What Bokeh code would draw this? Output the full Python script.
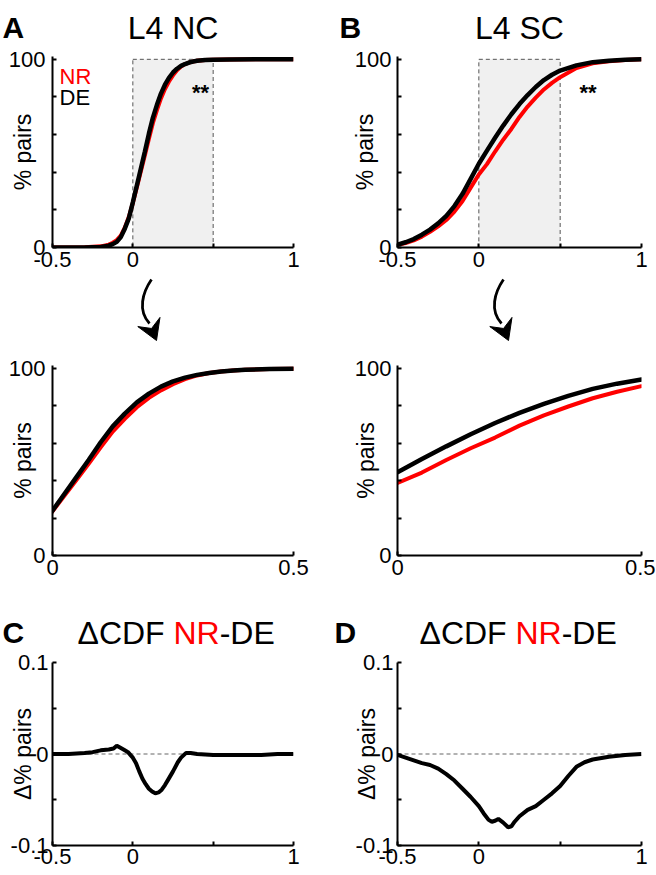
import numpy as np
from bokeh.plotting import figure
from bokeh.models import Range1d, FixedTicker, Label, Span
from bokeh.layouts import column, row
from bokeh.embed import file_html
from bokeh.resources import INLINE

FONT = "Liberation Sans"
RED = "#ff0000"
BLACK = "#000000"

# ---------------- data ----------------
# L4 NC cumulative distributions (% pairs)
nc_x = [-0.5, -0.3, -0.2, -0.15, -0.125, -0.1, -0.075, -0.05, -0.025, 0.0, 0.025, 0.05, 0.075,
        0.1, 0.125, 0.15, 0.175, 0.2, 0.225, 0.25, 0.275, 0.3, 0.325, 0.35, 0.375, 0.4, 0.45,
        0.5, 0.6, 0.8, 1.0]
nc_de = [0, 0, 0.3, 1, 1.8, 3, 5.5, 10, 15.5, 24, 33, 42, 51,
         60.5, 69, 75.8, 81.8, 86.5, 90.2, 93, 95, 96.5, 97.5, 98.3, 98.8, 99.2, 99.6,
         99.8, 99.9, 100, 100]
nc_nr = [0, 0.1, 0.6, 1.5, 2.5, 3.9, 6.3, 10.5, 16.2, 23.6, 32, 40.5, 49,
         57.8, 66.2, 73, 79.2, 84.2, 88.2, 91.5, 94.2, 96.2, 97.5, 98.3, 98.8, 99.2, 99.6,
         99.8, 99.9, 100, 100]

# L4 SC cumulative distributions (% pairs)
sc_x = [-0.5, -0.45, -0.4, -0.35, -0.3, -0.25, -0.2, -0.15, -0.1, -0.05, 0.0, 0.05, 0.1,
        0.15, 0.2, 0.25, 0.3, 0.35, 0.4, 0.45, 0.5, 0.6, 0.7, 0.8, 0.9, 1.0]
sc_de = [1.5, 2.8, 4.5, 6.8, 9.5, 12.8, 16.8, 22, 28.5, 36.5, 44.5, 51.5, 58.3,
         64.8, 70.8, 76.2, 81, 85.3, 89, 91.8, 94, 96.8, 98.5, 99.3, 99.8, 100]
sc_nr = [1.4, 2.4, 3.8, 5.8, 8.3, 11.2, 14.6, 19.1, 24.7, 31.8, 38.8, 44.3, 51,
         57.3, 63, 69.4, 74.9, 79.6, 84, 87.5, 90.5, 95.4, 97.9, 99, 99.7, 100]

# Delta CDF (NR - DE)
dnc_x = [-0.5, -0.4, -0.3, -0.25, -0.2, -0.15, -0.12, -0.1, -0.08, -0.05, -0.03, -0.01, 0.0,
         0.02, 0.04, 0.06, 0.08, 0.1, 0.12, 0.14, 0.16, 0.18, 0.2, 0.22, 0.25, 0.28, 0.3,
         0.33, 0.36, 0.4, 0.5, 0.6, 0.7, 0.8, 0.9, 1.0]
dnc_y = [0, 0, 0.001, 0.002, 0.004, 0.005, 0.006, 0.009, 0.007, 0.004, 0.002, -0.002, -0.004,
         -0.01, -0.019, -0.027, -0.033, -0.038, -0.041, -0.043, -0.042, -0.039, -0.034, -0.028,
         -0.019, -0.009, -0.004, 0.001, 0.001, 0.0, -0.001, -0.001, -0.001, -0.001, 0, 0]

dsc_x = [-0.5, -0.45, -0.4, -0.35, -0.3, -0.25, -0.2, -0.15, -0.1, -0.05, 0.0, 0.03, 0.06,
         0.08, 0.1, 0.12, 0.15, 0.18, 0.2, 0.22, 0.25, 0.3, 0.35, 0.4, 0.45, 0.5, 0.55, 0.6,
         0.65, 0.7, 0.8, 0.9, 1.0]
dsc_y = [-0.001, -0.004, -0.007, -0.01, -0.012, -0.016, -0.022, -0.029, -0.038, -0.047, -0.057,
         -0.065, -0.072, -0.074, -0.073, -0.071, -0.075, -0.08, -0.079, -0.074, -0.068, -0.061,
         -0.057, -0.05, -0.043, -0.035, -0.024, -0.014, -0.009, -0.006, -0.003, -0.001, 0]

window = (0.0, 0.5)          # zoomed window shown in the middle row
full_ticks = [-0.5, 0, 0.5, 1]
full_labels = {-0.5: "-0.5", 0: "0", 0.5: "", 1: "1"}
pct_ticks = [0, 20, 40, 60, 80, 100]
pct_labels = {0: "0", 20: "", 40: "", 60: "", 80: "", 100: "100"}
win_ticks = [0, 0.5]
win_labels = {0: "0", 0.5: "0.5"}
d_ticks = [-0.1, -0.05, 0, 0.05, 0.1]
d_labels = {-0.1: "-0.1", -0.05: "", 0: "0", 0.05: "", 0.1: "0.1"}


def make_fig(width, height, bl, br, bt, bb, xr, yr, xt, xl, yt, yl, ylabel, lab_stand,
             ystand=7, xstand=4):
    p = figure(width=width, height=height, x_range=Range1d(*xr), y_range=Range1d(*yr),
               output_backend="svg", toolbar_location=None,
               min_border_left=bl, min_border_right=br, min_border_top=bt, min_border_bottom=bb)
    p.xgrid.visible = False
    p.ygrid.visible = False
    p.outline_line_color = None
    p.background_fill_color = "white"
    p.border_fill_color = "white"
    p.xaxis.ticker = FixedTicker(ticks=xt)
    p.xaxis.major_label_overrides = xl
    p.yaxis.ticker = FixedTicker(ticks=yt)
    p.yaxis.major_label_overrides = yl
    for ax in (p.xaxis[0], p.yaxis[0]):
        ax.axis_line_width = 2
        ax.axis_line_color = BLACK
        ax.major_tick_in = 4
        ax.major_tick_out = 0
        ax.major_tick_line_width = 2
        ax.major_tick_line_color = BLACK
        ax.minor_tick_line_color = None
        ax.major_label_text_font = FONT
        ax.major_label_text_font_size = "22px"
        ax.major_label_text_color = BLACK
    ya = p.yaxis[0]
    ya.major_label_standoff = ystand
    ya.axis_label = ylabel
    ya.axis_label_text_font = FONT
    ya.axis_label_text_font_size = "23px"
    ya.axis_label_text_font_style = "normal"
    ya.axis_label_text_color = BLACK
    ya.axis_label_standoff = lab_stand
    p.xaxis[0].major_label_standoff = xstand
    return p


def deco_fig(width, height):
    """A figure without axes whose frame is the whole canvas, in pixel units (y down)."""
    p = figure(width=width, height=height, x_range=Range1d(0, width), y_range=Range1d(height, 0),
               x_axis_type=None, y_axis_type=None, output_backend="svg", toolbar_location=None,
               min_border_left=0, min_border_right=0, min_border_top=0, min_border_bottom=0)
    p.outline_line_color = None
    p.background_fill_color = "white"
    p.border_fill_color = "white"
    p.grid.visible = False
    return p


def txt(p, x, y, text, size="22px", color=BLACK, align="left", baseline="alphabetic", bold=False):
    p.add_layout(Label(x=x, y=y, text=text, text_font=FONT, text_font_size=size,
                       text_color=color, text_align=align, text_baseline=baseline,
                       text_font_style="bold" if bold else "normal"))


def curved_arrow(p, pts, tip, head_len=20, head_w=24):
    (x0, y0), (cx0, cy0), (cx1, cy1), (x1, y1) = pts
    p.bezier(x0=[x0], y0=[y0], x1=[x1], y1=[y1], cx0=[cx0], cy0=[cy0], cx1=[cx1], cy1=[cy1],
             line_color=BLACK, line_width=2.8)
    t = np.array(tip, dtype=float)
    d = t - np.array([x1, y1], dtype=float)
    d /= np.hypot(*d)
    n = np.array([-d[1], d[0]])
    base = t - head_len * d
    w1 = base + 0.5 * head_w * n
    w2 = base - 0.5 * head_w * n
    notch = t - 0.65 * head_len * d
    p.patch([t[0], w1[0], notch[0], w2[0]], [t[1], w1[1], notch[1], w2[1]],
            fill_color=BLACK, line_color=BLACK, line_width=1)


LW, RW = 326, 329
TOP_Y = (0, 101.5)

# ---------------- row 1: titles ----------------
t1l = deco_fig(LW, 46)
txt(t1l, 2, 27, "A", size="30px", bold=True)
txt(t1l, 172.5, 27, "L4 NC", size="32px", align="center")
t1r = deco_fig(RW, 46)
txt(t1r, 13, 27, "B", size="30px", bold=True)
txt(t1r, 193, 27, "L4 SC", size="32px", align="center")

# ---------------- row 2: full CDFs ----------------
tl = make_fig(LW, 231, 52, 33, 10, 30, (-0.5, 1), TOP_Y, full_ticks, full_labels, pct_ticks,
              pct_labels, "% pairs", -30)
tr = make_fig(RW, 231, 71, 14, 10, 30, (-0.5, 1), TOP_Y, full_ticks, full_labels, pct_ticks,
              pct_labels, "% pairs", -26, ystand=6)
for p, x, de, nr in ((tl, nc_x, nc_de, nc_nr), (tr, sc_x, sc_de, sc_nr)):
    p.quad(left=[window[0]], right=[window[1]], bottom=[0], top=[100], fill_color="#f0f0f0",
           line_color="#555555", line_dash="4 3", line_width=1)
    p.line(x, nr, line_color=RED, line_width=4)
    p.line(x, de, line_color=BLACK, line_width=4.5)
txt(tl, -0.456, 90.9, "NR", color=RED)
txt(tl, -0.456, 79.7, "DE")
txt(tl, 0.421, 82.6, "**", align="center", bold=True)
txt(tr, 0.671, 82.6, "**", align="center", bold=True)

# ---------------- row 3: arrows ----------------
arl = deco_fig(LW, 68)
curved_arrow(arl, [(151, 2), (142, 15), (137, 33), (149, 46)], (156, 63))
arr = deco_fig(RW, 68)
curved_arrow(arr, [(177, 2), (168, 15), (163, 33), (175, 46)], (182, 63))

# ---------------- row 4: zoomed CDFs ----------------
ml = make_fig(LW, 240, 52, 33, 20, 30, window, TOP_Y, win_ticks, win_labels, pct_ticks,
              pct_labels, "% pairs", -30)
mr = make_fig(RW, 240, 71, 14, 20, 30, window, TOP_Y, win_ticks, win_labels, pct_ticks,
              pct_labels, "% pairs", -27, ystand=6)
for p, x, de, nr in ((ml, nc_x, nc_de, nc_nr), (mr, sc_x, sc_de, sc_nr)):
    p.line(x, nr, line_color=RED, line_width=4)
    p.line(x, de, line_color=BLACK, line_width=4.5)

# ---------------- row 5: titles ----------------
t2l = deco_fig(LW, 64)
txt(t2l, 2, 47, "C", size="30px", bold=True)
txt(t2l, 77, 47, "\u0394CDF", size="32px")
txt(t2l, 173, 47, "NR", size="32px", color=RED)
txt(t2l, 219.2, 47, "-DE", size="32px")
t2r = deco_fig(RW, 64)
txt(t2r, 8, 47, "D", size="30px", bold=True)
txt(t2r, 93, 47, "\u0394CDF", size="32px")
txt(t2r, 189, 47, "NR", size="32px", color=RED)
txt(t2r, 235.2, 47, "-DE", size="32px")

# ---------------- row 6: delta CDFs ----------------
bl = make_fig(LW, 225, 52, 33, 13, 29, (-0.5, 1), (-0.1, 0.1), full_ticks, full_labels, d_ticks,
              d_labels, "\u0394% pairs", -28, ystand=4, xstand=3)
br = make_fig(RW, 225, 71, 14, 13, 29, (-0.5, 1), (-0.1, 0.1), full_ticks, full_labels, d_ticks,
              d_labels, "\u0394% pairs", -27, ystand=4, xstand=3)
for p, x, d in ((bl, dnc_x, dnc_y), (br, dsc_x, dsc_y)):
    p.add_layout(Span(location=0, dimension="width", line_color="#666666", line_dash="4 3",
                      line_width=1.2, level="underlay"))
    p.line(x, d, line_color=BLACK, line_width=4)

layout = column(row(t1l, t1r), row(tl, tr), row(arl, arr), row(ml, mr),
                row(t2l, t2r), row(bl, br))
open("out.html", "w").write(file_html(layout, INLINE))
